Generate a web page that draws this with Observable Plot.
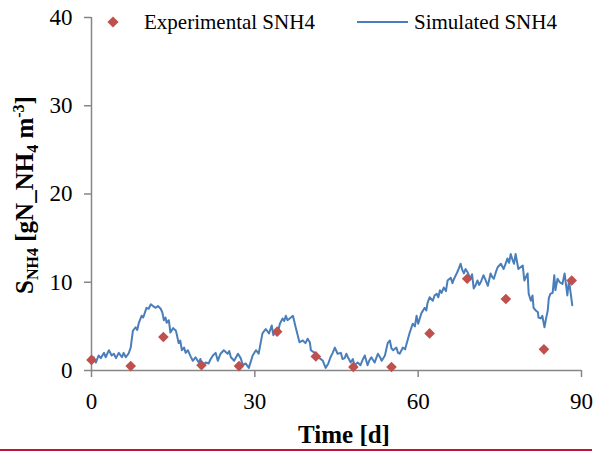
<!DOCTYPE html>
<html><head><meta charset="utf-8">
<script src="https://cdn.jsdelivr.net/npm/d3@7"></script>
<script src="https://cdn.jsdelivr.net/npm/@observablehq/plot@0.6"></script>
<style>
html,body{margin:0;padding:0;background:#fff;}
#chart{width:597px;height:452px;position:relative;overflow:hidden;}
#rule{position:absolute;left:0;top:449px;width:592px;height:2px;background:#c0143c;}
</style></head><body><div id="chart"></div>
<script>
// Experimental SNH4 (diamonds)
const expT = [0, 7.2, 13.2, 20.2, 27.1, 34.1, 41.2, 48.1, 55.1, 62.1, 69.0, 76.1, 83.1, 88.2];
const expV = [1.2, 0.5, 3.8, 0.6, 0.5, 4.4, 1.6, 0.4, 0.4, 4.2, 10.4, 8.1, 2.4, 10.2];

// Simulated SNH4 (line)
const simT = [0.0,0.4,0.8,1.3,1.7,2.3,2.6,3.2,3.7,4.1,4.5,5.0,5.6,5.9,6.3,6.8,7.2,7.6,8.1,8.4,8.7,9.2,9.5,10.1,10.5,10.9,11.3,11.8,12.2,12.7,13.0,13.3,13.6,13.8,14.2,14.5,15.0,15.5,15.7,16.0,16.3,16.6,17.0,17.3,17.7,18.2,18.6,19.1,19.7,20.0,20.4,21.0,21.5,21.9,22.3,22.8,23.2,23.7,24.3,25.0,25.3,25.6,26.2,26.9,27.4,27.8,28.3,28.9,29.6,30.2,30.7,31.0,31.4,32.0,32.6,33.1,33.4,33.8,34.2,34.6,35.1,35.4,35.7,36.0,36.4,37.0,37.5,38.2,38.8,39.3,39.7,40.1,40.3,41.0,41.3,41.9,42.5,43.0,43.5,43.9,44.3,44.7,45.2,45.8,46.1,46.5,46.8,47.1,47.6,48.0,48.3,48.9,49.4,49.8,50.2,50.7,51.0,51.4,52.0,52.6,53.0,53.3,53.9,54.4,54.8,55.1,55.4,56.0,56.3,56.6,57.2,57.6,57.9,58.4,59.0,59.4,59.7,60.0,60.6,61.2,61.5,61.7,62.1,62.7,63.0,63.4,63.7,64.0,64.3,64.7,65.1,65.4,66.0,66.3,66.6,67.0,67.3,67.8,68.1,68.4,68.7,69.1,69.6,69.9,70.2,70.5,70.9,71.2,71.5,72.0,72.4,72.8,73.3,73.6,73.9,74.3,74.6,75.2,75.7,76.0,76.4,76.7,77.0,77.3,77.6,77.9,78.4,78.8,79.2,79.5,80.1,80.3,80.7,81.0,81.2,81.6,82.0,82.1,82.5,82.8,83.2,83.5,83.8,84.0,84.3,84.7,85.0,85.2,85.6,86.0,86.5,86.9,87.4,87.7,88.3];
const simV = [0.9,1.5,0.9,1.7,1.4,2.0,1.5,2.3,1.7,1.9,1.4,2.0,1.5,2.0,1.5,1.9,2.6,4.5,4.9,4.6,5.4,6.2,6.0,7.1,7.0,7.5,7.3,7.1,7.3,7.0,6.6,5.7,6.0,5.4,5.7,4.3,4.8,4.5,4.0,3.1,3.4,2.3,2.6,2.0,2.3,1.6,1.1,1.5,0.9,1.3,0.6,0.9,0.8,1.3,1.7,2.0,1.1,1.9,2.3,1.9,2.2,1.5,1.1,1.9,1.4,0.6,0.8,0.3,1.7,2.3,1.9,2.9,4.2,4.7,4.2,5.1,4.0,4.6,4.2,5.3,5.9,5.6,6.2,5.7,5.9,6.2,4.9,3.2,3.4,3.1,3.6,3.2,2.3,2.0,1.6,1.4,1.1,0.3,0.8,1.5,2.0,2.6,1.9,2.0,1.3,1.4,1.9,1.5,0.9,1.3,0.6,0.9,0.6,1.2,1.7,0.6,1.1,1.5,0.9,1.9,1.5,1.1,1.7,3.1,3.4,2.5,2.3,2.6,2.0,1.9,2.6,2.4,3.1,4.2,5.3,5.0,6.2,5.3,6.5,7.1,6.8,7.6,8.3,7.9,8.5,8.7,8.3,9.1,8.8,9.4,9.0,10.2,10.5,9.9,10.4,10.9,11.3,12.1,11.4,11.0,11.5,11.1,10.4,10.9,9.3,9.6,10.2,9.7,10.0,10.8,10.2,9.6,11.0,10.6,10.4,11.2,11.7,12.1,11.5,12.0,12.7,12.2,13.2,12.6,12.1,13.2,11.5,11.7,11.9,10.2,11.0,8.7,7.9,8.5,7.1,6.8,6.6,6.0,5.9,6.2,4.9,5.9,6.8,8.2,8.7,8.8,10.8,9.1,10.4,10.0,9.8,11.0,8.5,10.2,7.4];

const xTicks = [0, 30, 60, 90];
const yTicks = [0, 10, 20, 30, 40];
const seriesNames = ["Experimental SNH4", "Simulated SNH4"];
const xTitle = "Time [d]";

const expData = expT.map((t, i) => ({t, v: expV[i]}));
const simData = simT.map((t, i) => ({t, v: simV[i]}));

const serif = "'Liberation Serif','Times New Roman',serif";
const red = "#c0504d", blue = "#4a7ebb", gray = "#868686";

const svg = Plot.plot({
  width: 597, height: 449,
  marginTop: 17, marginBottom: 79, marginLeft: 91, marginRight: 16,
  style: {fontFamily: serif, fontSize: "23px", background: "white", color: "black", overflow: "visible"},
  x: {domain: [0, 90], label: null},
  y: {domain: [0, 40], label: null},
  marks: [
    Plot.ruleY([0], {stroke: gray, strokeWidth: 1.5}),
    Plot.ruleX([0], {stroke: gray, strokeWidth: 1.5}),
    Plot.axisX(xTicks, {tickSize: 7, tickPadding: 15, stroke: gray, strokeWidth: 1.5, fill: "black", label: null}),
    Plot.axisY(yTicks, {tickSize: 7, tickPadding: 12, stroke: gray, strokeWidth: 1.5, fill: "black", label: null}),
    Plot.line(simData, {x: "t", y: "v", stroke: blue, strokeWidth: 2}),
    Plot.dot(expData, {x: "t", y: "v", symbol: "diamond2", r: 4.8, fill: red, stroke: "none"})
  ]
});

const s = d3.select(svg);
// x title
s.append("text").attr("x", 344).attr("y", 443).attr("text-anchor", "middle")
  .attr("font-family", serif).attr("font-size", 25).attr("font-weight", "bold").attr("fill", "black")
  .text(xTitle);
// y title with sub/superscripts
const yt = s.append("text").attr("transform", "translate(33,195) rotate(-90)").attr("text-anchor", "middle")
  .attr("font-family", serif).attr("font-size", 25).attr("font-weight", "bold").attr("fill", "black");
yt.append("tspan").text("S");
yt.append("tspan").attr("font-size", 16).attr("dy", 5).text("NH4");
yt.append("tspan").attr("dy", -5).text(" [gN_NH");
yt.append("tspan").attr("font-size", 16).attr("dy", 5).text("4");
yt.append("tspan").attr("dy", -5).text(" m");
yt.append("tspan").attr("font-size", 16).attr("dy", -9).text("-3");
yt.append("tspan").attr("dy", 9).text("]");

// legend
const lg = s.append("g").attr("font-family", serif).attr("font-size", 21).attr("fill", "black").attr("text-anchor", "start");
lg.append("path").attr("transform", "translate(113,22)").attr("d", d3.symbol(d3.symbolDiamond2, 80)()).attr("fill", red);
lg.append("text").attr("x", 144).attr("y", 29).attr("text-anchor", "start").text(seriesNames[0]);
lg.append("line").attr("x1", 357).attr("x2", 408).attr("y1", 22).attr("y2", 22).attr("stroke", blue).attr("stroke-width", 2);
lg.append("text").attr("x", 414).attr("y", 29).attr("text-anchor", "start").text(seriesNames[1]);

const chart = document.getElementById("chart");
chart.appendChild(svg);
const rule = document.createElement("div");
rule.id = "rule";
chart.appendChild(rule);
</script></body></html>
